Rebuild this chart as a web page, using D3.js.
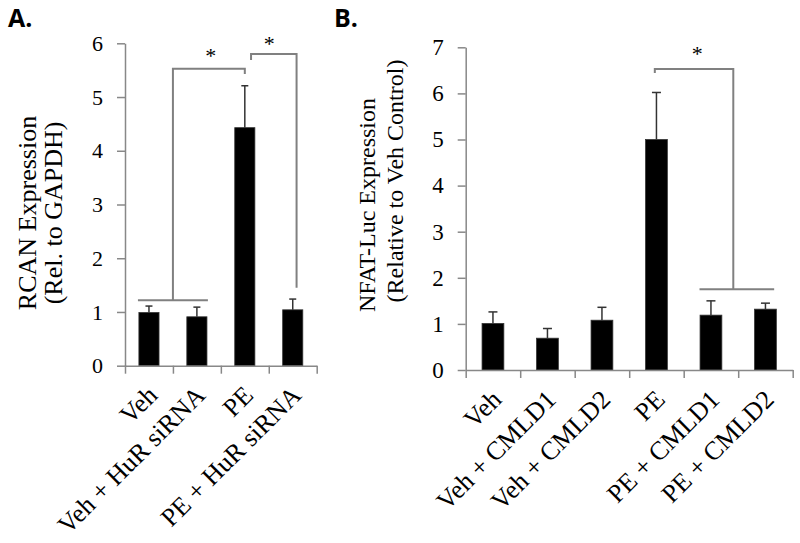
<!DOCTYPE html>
<html>
<head>
<meta charset="utf-8">
<script src="https://cdn.jsdelivr.net/npm/d3@7"></script>
<style>
  body { margin: 0; background: #fff; }
  svg { display: block; }
  .tick-label, .cat-label, .y-title, .star { font-family: "Liberation Serif", "Times New Roman", serif; fill: #000; }
  .panel-tag { font-family: "Open Sans", "Liberation Sans", sans-serif; font-weight: 700; fill: #000; }
</style>
</head>
<body>
<div id="chart"></div>
<script>
// Panel A: RCAN expression
var catsA = ['Veh', 'Veh + HuR siRNA', 'PE', 'PE + HuR siRNA'];
var meansA = [0.99, 0.91, 4.43, 1.04];
var errsA = [0.12, 0.18, 0.78, 0.20];
var ticksA = [0, 1, 2, 3, 4, 5, 6];

// Panel B: NFAT-Luc expression
var catsB = ['Veh', 'Veh + CMLD1', 'Veh + CMLD2', 'PE', 'PE + CMLD1', 'PE + CMLD2'];
var meansB = [1.01, 0.69, 1.08, 5.0, 1.19, 1.32];
var errsB = [0.25, 0.21, 0.28, 1.02, 0.31, 0.13];
var ticksB = [0, 1, 2, 3, 4, 5, 6, 7];

// significance brackets: [category index, value] points of each path
var bracketsA = [
  [[-0.23, 1.22], [1.23, 1.22]],
  [[0.5, 1.22], [0.5, 5.525], [2.0, 5.525], [2.0, 5.43]],
  [[2.13, 5.69], [2.13, 5.8], [3.08, 5.8], [3.08, 1.45]]
];
var starsA = [[1.29, 5.64], [2.51, 5.86]];
var bracketsB = [
  [[2.97, 6.44], [2.97, 6.53], [4.41, 6.53], [4.41, 1.75]],
  [[3.79, 1.75], [5.16, 1.75]]
];
var starsB = [[3.75, 6.71]];

var W = 800, H = 543;
var svg = d3.select('#chart').append('svg').attr('width', W).attr('height', H);

function drawPanel(o) {
  var g = svg.append('g');
  var x = d3.scaleBand().domain(o.cats).range([o.left, o.right])
    .paddingInner(o.pad).paddingOuter(o.pad / 2);
  var xi = d3.scaleLinear().domain([-0.5, o.cats.length - 0.5]).range([o.left, o.right]);
  var y = d3.scaleLinear().domain([0, d3.max(o.ticks)]).range([o.bottom, o.top]);

  // bars
  g.selectAll('rect.bar').data(o.means).enter().append('rect')
    .attr('class', 'bar')
    .attr('x', function (d, i) { return x(o.cats[i]); })
    .attr('y', function (d) { return y(d); })
    .attr('width', x.bandwidth())
    .attr('height', function (d) { return y(0) - y(d); })
    .attr('fill', '#000')
    .attr('stroke', '#333')
    .attr('stroke-width', 0.8);

  // error bars (upper only)
  var eb = g.selectAll('g.err').data(o.means).enter().append('g').attr('class', 'err');
  eb.append('line')
    .attr('x1', function (d, i) { return xi(i); })
    .attr('x2', function (d, i) { return xi(i); })
    .attr('y1', function (d) { return y(d); })
    .attr('y2', function (d, i) { return y(d + o.errs[i]); })
    .attr('stroke', '#333').attr('stroke-width', 1.5);
  eb.append('line')
    .attr('x1', function (d, i) { return xi(i) - o.cap; })
    .attr('x2', function (d, i) { return xi(i) + o.cap; })
    .attr('y1', function (d, i) { return y(d + o.errs[i]); })
    .attr('y2', function (d, i) { return y(d + o.errs[i]); })
    .attr('stroke', '#333').attr('stroke-width', 1.5);

  // y axis
  var ya = g.append('g').attr('transform', 'translate(' + o.left + ',0)')
    .call(d3.axisLeft(y).tickValues(o.ticks).tickFormat(d3.format('d'))
      .tickSize(8).tickPadding(o.tickPad).tickSizeOuter(0));
  ya.select('.domain').attr('stroke', '#888').attr('stroke-width', 1.5);
  ya.selectAll('.tick line').attr('stroke', '#888').attr('stroke-width', 1.5);
  ya.selectAll('.tick text').attr('class', 'tick-label').attr('font-size', o.tickFont + 'px')
    .attr('fill', '#000').style('font-family', '"Liberation Serif", serif');

  // x axis with tick marks between categories
  var edges = d3.range(o.cats.length + 1).map(function (i) { return i - 0.5; });
  var xa = g.append('g').attr('transform', 'translate(0,' + o.bottom + ')')
    .call(d3.axisBottom(xi).tickValues(edges).tickSize(8).tickFormat('').tickSizeOuter(0));
  xa.select('.domain').attr('stroke', '#888').attr('stroke-width', 1.5);
  xa.selectAll('.tick line').attr('stroke', '#888').attr('stroke-width', 1.5);

  // rotated category labels
  g.selectAll('text.cat-label').data(o.cats).enter().append('text')
    .attr('class', 'cat-label')
    .attr('font-size', o.catFont + 'px')
    .attr('text-anchor', 'end')
    .attr('transform', function (d, i) {
      return 'translate(' + (xi(i) + 10) + ',' + (o.bottom + 31) + ') rotate(-45)';
    })
    .text(function (d) { return d; });

  // y title (two lines)
  o.title.forEach(function (t, k) {
    g.append('text').attr('class', 'y-title')
      .attr('font-size', o.titleFont + 'px')
      .attr('text-anchor', 'middle')
      .attr('transform', 'translate(' + o.titleX[k] + ',' + o.titleY[k] + ') rotate(-90)')
      .text(t);
  });

  // brackets
  var line = d3.line().x(function (p) { return xi(p[0]); }).y(function (p) { return y(p[1]); });
  g.selectAll('path.br').data(o.brackets).enter().append('path')
    .attr('class', 'br')
    .attr('d', line)
    .attr('fill', 'none')
    .attr('stroke', '#808080')
    .attr('stroke-width', 2);

  g.selectAll('text.star').data(o.stars).enter().append('text')
    .attr('class', 'star')
    .attr('font-size', '22px')
    .attr('text-anchor', 'middle')
    .attr('x', function (p) { return xi(p[0]); })
    .attr('y', function (p) { return y(p[1]); })
    .text('*');

  svg.append('text').attr('class', 'panel-tag')
    .attr('x', o.tag[0]).attr('y', o.tag[1])
    .attr('font-size', '25px')
    .text(o.tagText);
}

drawPanel({
  cats: catsA, means: meansA, errs: errsA, ticks: ticksA,
  left: 125, right: 316.7, top: 43.3, bottom: 365.7, pad: 0.58, cap: 3.5,
  tickPad: 14, tickFont: 22, catFont: 26,
  title: ['RCAN Expression', '(Rel. to GAPDH)'], titleX: [36, 62], titleY: [213, 213], titleFont: 26,
  brackets: bracketsA, stars: starsA, tag: [8, 27], tagText: 'A.'
});

drawPanel({
  cats: catsB, means: meansB, errs: errsB, ticks: ticksB,
  left: 465.7, right: 792.7, top: 47.3, bottom: 370, pad: 0.6, cap: 4.5,
  tickPad: 14, tickFont: 23, catFont: 26,
  title: ['NFAT-Luc Expression', '(Relative to Veh Control)'], titleX: [375, 403], titleY: [205, 181], titleFont: 24,
  brackets: bracketsB, stars: starsB, tag: [334, 27], tagText: 'B.'
});
</script>
</body>
</html>
